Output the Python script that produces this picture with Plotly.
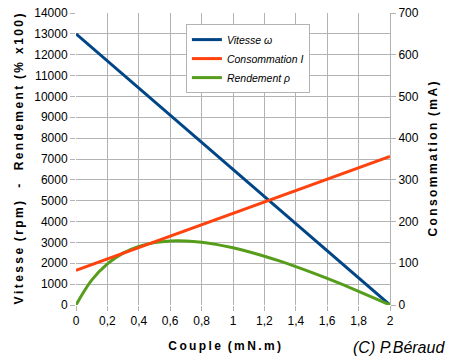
import plotly.graph_objects as go

couple = [0, 0.1, 0.2, 0.3, 0.4, 0.5, 0.6, 0.7, 0.8, 0.9, 1.0, 1.1, 1.2, 1.3, 1.4, 1.5, 1.6, 1.7, 1.8, 1.9, 2.0]
vitesse = [13000, 12350, 11700, 11050, 10400, 9750, 9100, 8450, 7800, 7150, 6500, 5850, 5200, 4550, 3900, 3250, 2600, 1950, 1300, 650, 0]
consommation = [83, 96.7, 110.4, 124.1, 137.8, 151.5, 165.2, 178.9, 192.6, 206.3, 219.5, 233.2, 246.9, 260.6, 274.3, 288, 301.7, 315.4, 329.1, 342.8, 356]
rendement = [0, 1190, 1970, 2485, 2807, 2990, 3070, 3071, 3008, 2895, 2742, 2555, 2340, 2101, 1843, 1567, 1276, 973, 658, 333, 0]

x_ticks = [0, 0.2, 0.4, 0.6, 0.8, 1, 1.2, 1.4, 1.6, 1.8, 2]
x_labels = ["0", "0,2", "0,4", "0,6", "0,8", "1", "1,2", "1,4", "1,6", "1,8", "2"]

names = ["<i>Vitesse ω</i>", "<i>Consommation I</i>", "<i>Rendement ρ</i>"]
colors = ["#004586", "#ff420e", "#579d1c"]

def spaced(s):
    return "\u2009".join(list(s))

fig = go.Figure()
fig.add_trace(go.Scatter(x=couple, y=vitesse, mode="lines", name=names[0],
                         line=dict(color=colors[0], width=3)))
fig.add_trace(go.Scatter(x=couple, y=consommation, mode="lines", name=names[1],
                         line=dict(color=colors[1], width=3), yaxis="y2"))
fig.add_trace(go.Scatter(x=couple, y=rendement, mode="lines", name=names[2],
                         line=dict(color=colors[2], width=3, shape="spline")))

font = "Liberation Sans, Arial, sans-serif"
grid = "#b3b3b3"

fig.update_layout(
    width=456, height=361,
    margin=dict(l=76, r=66, t=13, b=56),
    paper_bgcolor="white", plot_bgcolor="white",
    font=dict(family=font, size=12, color="#000000"),
    showlegend=True,
    legend=dict(x=0.35, y=0.962, xanchor="left", yanchor="top",
                bgcolor="white", bordercolor="#b3b3b3", borderwidth=1,
                font=dict(family=font, size=10.5), tracegroupgap=0,
                itemwidth=30),
    xaxis=dict(range=[0, 2], tickvals=x_ticks, ticktext=x_labels,
               showgrid=True, gridcolor=grid, gridwidth=1, zeroline=False,
               ticks="outside", ticklen=5, tickcolor=grid,
               showline=False, automargin=False,
               title=dict(text="<b>" + spaced("Couple") + "  " + spaced("(mN.m)")
                          + "\u00a0" * 5 + "</b>",
                          font=dict(family=font, size=12), standoff=14)),
    yaxis=dict(range=[0, 14000], dtick=1000, tickformat="d", showgrid=True, gridcolor=grid,
               gridwidth=1, zeroline=False, ticks="outside", ticklen=5,
               tickcolor=grid, showline=False, automargin=False,
               ticklabeloverflow="allow",
               title=dict(text="<b>" + spaced("Vitesse") + "  " + spaced("(rpm)") + "    -    "
                          + spaced("Rendement") + "  " + spaced("(% x100)") + "</b>",
                          font=dict(family=font, size=12), standoff=8)),
    yaxis2=dict(range=[0, 700], dtick=100, tickformat="d", overlaying="y", side="right",
                showgrid=False, zeroline=False, ticks="outside", ticklen=5,
                tickcolor=grid, showline=True, linecolor=grid, linewidth=1,
                automargin=False, ticklabeloverflow="allow",
                title=dict(text="<b>" + spaced("Consommation") + "  " + spaced("(mA)") + "</b>",
                           font=dict(family=font, size=12), standoff=10)),
)

fig.add_annotation(text="<i>(C) P.Béraud</i>", xref="paper", yref="paper",
                   x=1.18, y=-0.18, xanchor="right", yanchor="bottom",
                   showarrow=False, font=dict(family=font, size=16))

fig.write_html("out.html", config={"displayModeBar": False},
               post_script="document.body.style.margin='0';document.body.style.overflow='hidden';")
